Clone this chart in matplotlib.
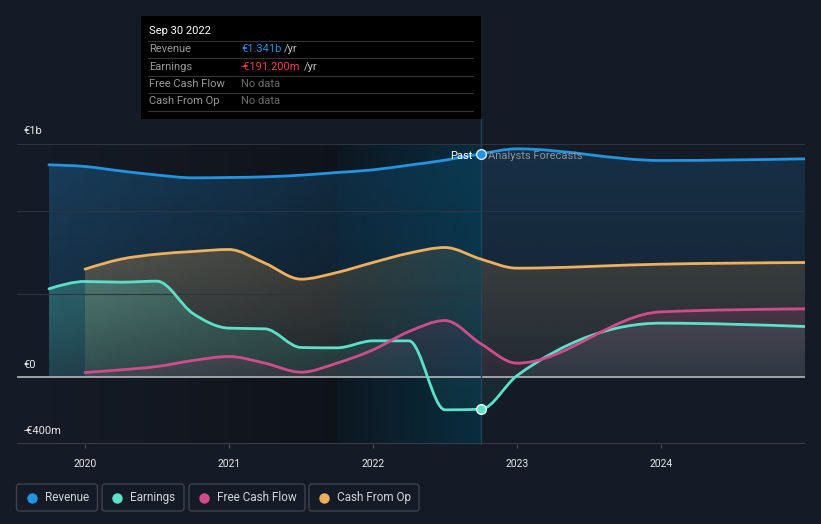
import numpy as np
import matplotlib
matplotlib.use("Agg")
import matplotlib.pyplot as plt
from matplotlib.path import Path
from matplotlib.patches import PathPatch, FancyBboxPatch, Rectangle
from matplotlib.colors import to_rgb

plt.rcParams['font.family'] = ['Roboto', 'DejaVu Sans']

BG = '#151b26'
C_REV = '#2394df'
C_EARN = '#5de0c8'
C_FCF = '#cf4d8b'
C_CFO = '#eeb05e'

# decimal years: quarterly history up to Sep 2022, then annual analyst forecasts
past_dates = [2019.75, 2020.0, 2020.25, 2020.5, 2020.75, 2021.0, 2021.25,
              2021.5, 2021.75, 2022.0, 2022.25, 2022.5, 2022.75]
forecast_dates = [2023.0, 2024.0, 2025.0]
dates = past_dates + forecast_dates
cf_dates = past_dates[1:] + forecast_dates

# EUR millions
revenue = [1275, 1265, 1238, 1214, 1197, 1199, 1203, 1213, 1229, 1245, 1273,
           1303, 1341, 1371, 1301, 1311]
earnings = [531, 575, 571, 577, 383, 295, 291, 179, 177, 219, 219, -195,
            -191.2, 10, 325, 305]
free_cash_flow = [29, 45, 65, 101, 125, 85, 31, 85, 165, 275, 341, 201, 85,
                  393, 411]
cash_from_op = [649, 709, 739, 755, 767, 685, 589, 629, 689, 745, 779, 709,
                655, 679, 689]

year_ticks = [2020, 2021, 2022, 2023, 2024]
split = 2022.75


def monotone_path(x, y):
    # cubic bezier segments with monotone (d3 monotoneX style) tangents
    x = np.asarray(x, float)
    y = np.asarray(y, float)
    n = len(x)
    h = np.diff(x)
    s = np.diff(y) / h
    t = np.zeros(n)
    for i in range(1, n - 1):
        p = (s[i - 1] * h[i] + s[i] * h[i - 1]) / (h[i - 1] + h[i])
        t[i] = (np.sign(s[i - 1]) + np.sign(s[i])) * min(abs(s[i - 1]), abs(s[i]), 0.5 * abs(p))
    t[0] = (3 * s[0] - t[1]) / 2
    t[-1] = (3 * s[-1] - t[-2]) / 2
    verts = [(x[0], y[0])]
    codes = [Path.MOVETO]
    for i in range(n - 1):
        d = h[i] / 3
        verts += [(x[i] + d, y[i] + d * t[i]), (x[i + 1] - d, y[i + 1] - d * t[i + 1]), (x[i + 1], y[i + 1])]
        codes += [Path.CURVE4] * 3
    return verts, codes


fig = plt.figure(figsize=(8.21, 5.24), dpi=100, facecolor=BG)
ax = fig.add_axes([17 / 821, 1 - 444 / 524, 788 / 821, 300 / 524])
ax.set_facecolor(BG)
for sp in ax.spines.values():
    sp.set_visible(False)

series = [(dates, revenue, C_REV), (cf_dates, cash_from_op, C_CFO),
          (dates, earnings, C_EARN), (cf_dates, free_cash_flow, C_FCF)]

# area fills with a vertical fade towards the bottom of each area
for k, (xs, ys, c) in enumerate(series):
    v, cd = monotone_path(xs, ys)
    v = v + [(xs[-1], 0), (xs[0], 0), (xs[0], ys[0])]
    cd = cd + [Path.LINETO, Path.LINETO, Path.CLOSEPOLY]
    clip = PathPatch(Path(v, cd), facecolor='none', edgecolor='none')
    ax.add_patch(clip)
    lo, hi = min(0, min(ys)), max(ys)
    g = np.linspace(0, 1, 256)[:, None]
    img = np.zeros((256, 2, 4))
    img[..., :3] = to_rgb(c)
    img[..., 3] = (0.1 + 0.2 * g)[:, :]
    im = ax.imshow(img, extent=[xs[0], xs[-1], lo, hi], origin='lower', aspect='auto',
                   zorder=1 + 0.01 * k, interpolation='bilinear')
    im.set_clip_path(clip)

# forecast side is dimmer
ax.add_patch(Rectangle((split, -400), 2025 - split, 1800, facecolor=BG, edgecolor='none',
                       alpha=0.42, zorder=1.5))

# darkening over the past, blue highlight over last year
gx = np.linspace(2019.75, split, 300)
img = np.zeros((2, len(gx), 4))
img[..., 3] = np.clip((gx - 2019.75) / 2.0, 0, 1) * 0.3
ax.imshow(img, extent=[2019.75, split, -400, 1400], aspect='auto', zorder=1.6,
          interpolation='bilinear')
hx = np.linspace(0, 1, 200)
img2 = np.zeros((2, len(hx), 4))
img2[..., 0] = 4 / 255
img2[..., 1] = 72 / 255
img2[..., 2] = 100 / 255
img2[..., 3] = 0.1 + 0.4 * hx
ax.imshow(img2, extent=[2021.75, split, -400, 1400], aspect='auto', zorder=1.7,
          interpolation='bilinear')

# grid
for g in [500, 1000, 1400]:
    ax.axhline(g, color='#2e343f', lw=0.8, zorder=1.8)
ax.axhline(-400, color='#40454e', lw=1.2, zorder=1.8)
ax.axhline(0, color='#b4b7bc', lw=1.2, zorder=2.5)

# past / forecast divider
ax.plot([split, split], [-400, 1550], color='#1f4657', lw=1, zorder=2.6, clip_on=False)

# lines
for xs, ys, c in series:
    v, cd = monotone_path(xs, ys)
    ax.add_patch(PathPatch(Path(v, cd), facecolor='none', edgecolor=c, lw=2.0, zorder=3,
                           capstyle='round'))

ax.plot([split], [revenue[12]], 'o', ms=7, mfc=C_REV, mec='#d8ecfa', mew=1, zorder=5)
ax.plot([split], [earnings[12]], 'o', ms=7, mfc=C_EARN, mec='#e6fffa', mew=1, zorder=5)

ax.set_xlim(2019.528, 2025.0)
ax.set_ylim(-400, 1400)
ax.set_yticks([])
ax.set_xticks(year_ticks)
ax.set_xticklabels([str(y) for y in year_ticks])
ax.tick_params(axis='x', length=3, width=0.8, color='#50555e', labelcolor='#e8e8e8',
               labelsize=7.5, pad=8)

for val, lab in [(1400, '€1b'), (0, '€0'), (-400, '-€400m')]:
    ax.text(2019.575, val + 75, lab, color='#e8e8e8', fontsize=8, va='center', ha='left')
ax.text(split - 0.06, revenue[12] - 15, 'Past', color='#ffffff', fontsize=8, ha='right',
        va='center', zorder=6)
ax.text(split + 0.05, revenue[12] - 15, 'Analysts Forecasts', color='#8d939b', fontsize=8,
        ha='left', va='center', zorder=6)

# overlay in pixel coordinates for tooltip and legend
ov = fig.add_axes([0, 0, 1, 1], zorder=10)
ov.set_xlim(0, 821)
ov.set_ylim(524, 0)
ov.axis('off')
ov.patch.set_alpha(0)

ov.add_patch(Rectangle((141, 16), 340, 103, facecolor='#000000', edgecolor='none'))
ov.text(149, 31, 'Sep 30 2022', color='#ffffff', fontsize=8, va='center', ha='left')
for ly in [41, 58, 76, 93, 111]:
    ov.plot([148, 473], [ly, ly], color='#343434', lw=0.8)

rows = [('Revenue', '€1.341b', C_REV, True), ('Earnings', '-€191.200m', '#ec4141', True),
        ('Free Cash Flow', 'No data', '#6c6c6c', False),
        ('Cash From Op', 'No data', '#6c6c6c', False)]
fig.canvas.draw()
renderer = fig.canvas.get_renderer()
for i, (lab, val, col, yr) in enumerate(rows):
    ry = 49.5 + i * 17.3
    ov.text(149, ry, lab, color='#9a9a9a', fontsize=8, va='center', ha='left')
    t = ov.text(241, ry, val, color=col, fontsize=8, va='center', ha='left')
    if yr:
        bb = t.get_window_extent(renderer=renderer)
        ov.text(bb.x1 + 3, ry, '/yr', color='#c4c4c4', fontsize=8, va='center', ha='left')

legend = [('Revenue', C_REV, 16.5, 81), ('Earnings', C_EARN, 102, 82),
          ('Free Cash Flow', C_FCF, 189, 116), ('Cash From Op', C_CFO, 309, 110)]
for lab, col, lx, lw in legend:
    ov.add_patch(FancyBboxPatch((lx, 484), lw, 27, boxstyle='round,pad=0,rounding_size=3',
                                facecolor='none', edgecolor='#3d424c', lw=1))
    ov.plot([lx + 15], [497.5], 'o', ms=6.5, color=col)
    ov.text(lx + 28, 497.5, lab, color='#d2d4d8', fontsize=8.5, va='center', ha='left')

fig.savefig('out.png', dpi=100, facecolor=BG)
